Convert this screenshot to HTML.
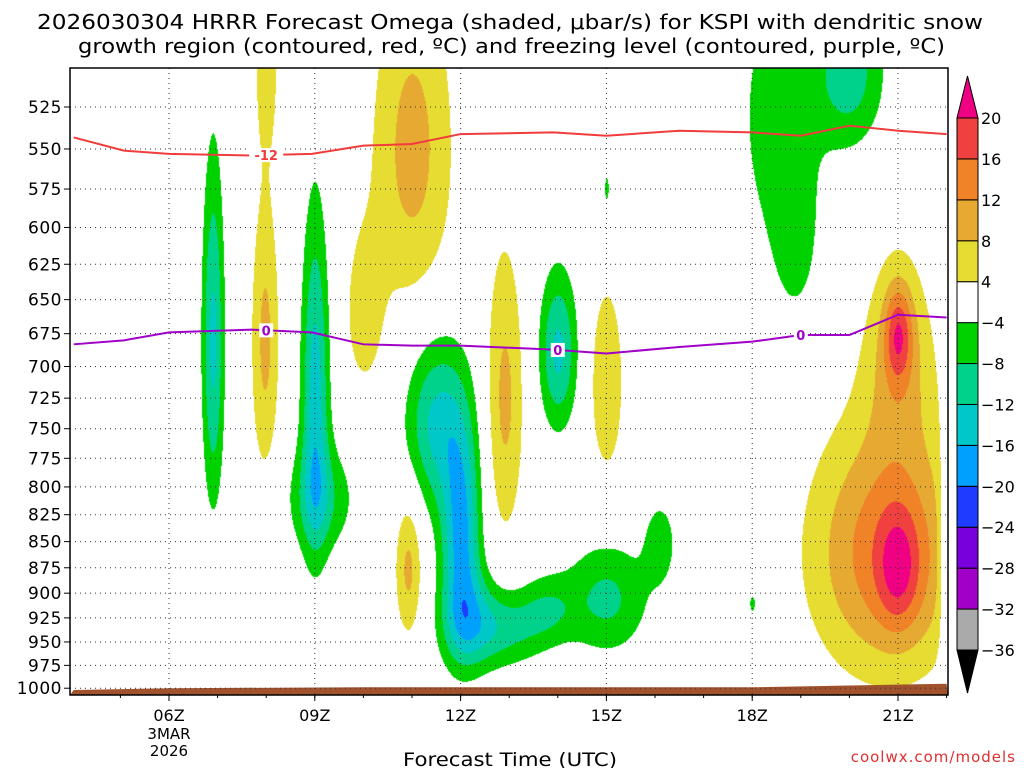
<!DOCTYPE html>
<html><head><meta charset="utf-8"><style>
body{margin:0;background:#fff;width:1024px;height:768px;overflow:hidden;font-family:"Liberation Sans",sans-serif}
#wrap{position:relative;width:1024px;height:768px}
canvas{position:absolute;left:0;top:0}
svg{position:absolute;left:0;top:0}
text{font-family:"DejaVu Sans","Liberation Sans",sans-serif}
</style></head><body>
<div id="wrap">
<canvas id="cv" width="1024" height="768"></canvas>
<svg id="sv" width="1024" height="768"></svg>
</div>
<script>
// ---- data ----
const pressureTicks=[525,550,575,600,625,650,675,700,725,750,775,800,825,850,875,900,925,950,975,1000];
const hourTicks=[6,9,12,15,18,21];
const hourLabels=["06Z","09Z","12Z","15Z","18Z","21Z"];
const levels=[-36,-32,-28,-24,-20,-16,-12,-8,-4,4,8,12,16,20];
const levelColors=["#000000","#aaaaaa","#a000c8","#7800dc","#1e3cff","#00a0ff","#00c8c8","#00d28c","#00d200","#ffffff","#e6dc32","#e6aa32","#f08228","#f04040","#f00082"];
// omega blobs: hour, pressure, amplitude, sigmaHour, sigmaP
const blobHour=[6.9,7.97,8.0,9.0,9.1,11.0,10.0,11.5,12.0,12.2,13.0,10.92,12.9,14.0,15.0,15.0,16.1,15.0,18.0,18.5,20.0,18.9,20.8,21.0,21.0,21.0,22.0,13.8];
const blobP=[680,680,505,720,810,550,660,745,845,930,935,875,725,688,712,905,850,575,910,530,505,610,860,875,690,675,860,915];
const blobAmp=[-13,9,5,-14,-8,9.5,6,-13,-17,-10,-8,9,9,-13,8,-9,-6,-5,-5,-5.5,-10,-4.2,15,9,8,12,-9,-6];
const blobSh=[0.16,0.21,0.22,0.2,0.5,0.6,0.3,0.45,0.28,0.45,0.55,0.2,0.28,0.27,0.25,0.6,0.25,0.07,0.1,0.7,0.5,0.35,1.1,0.3,0.5,0.2,0.12,0.4];
const blobSp=[91,79,35,95,35,75,45,50,70,35,28,50,85,42,55,40,30,12,15,70,30,45,85,40,55,25,70,25];
// -12C line and freezing level (pressure by hour)
const lineHours=[4.04,5.07,6,7.7,8.94,10.0,11.0,12.0,13.9,15.0,16.5,18.0,19.0,20.0,21.0,22.0];
const dgzP=[543,551,553,554,553,548,547,541,540,542,539,540,542,536,539,541];
const frzP=[683,680,674,672,674,683,684,684,687,690,685,681,676,676,661,663];
const groundHours=[4.04,6,10,18,20,22];
const groundP=[1002,1000,999,999,997,995];

// ---- scales ----
const X0=70,X1=948,Y0=68,Y1=695;
const xOf=h=>169+(h-6)*48.6;
const yOf=p=>107+(Math.log(p)-Math.log(525))*902;
const hOf=x=>6+(x-169)/48.6;
const pOf=y=>Math.exp(Math.log(525)+(y-107)/902);

// ---- shading ----
const cv=document.getElementById('cv'),ctx=cv.getContext('2d');
ctx.fillStyle='#fff';ctx.fillRect(0,0,1024,768);
const img=ctx.getImageData(X0,Y0,X1-X0,Y1-Y0);
function hex(c){return[parseInt(c.slice(1,3),16),parseInt(c.slice(3,5),16),parseInt(c.slice(5,7),16)];}
const rgb=levelColors.map(hex);
for(let j=0;j<Y1-Y0;j++){const p=pOf(Y0+j);
 for(let i=0;i<X1-X0;i++){const h=hOf(X0+i);let v=0;
  for(let k=0;k<blobHour.length;k++){const dh=(h-blobHour[k])/blobSh[k],dp=(p-blobP[k])/blobSp[k];const e=dh*dh+dp*dp;if(e<30)v+=blobAmp[k]*Math.exp(-e/2);}
  let idx=0;while(idx<levels.length&&v>=levels[idx])idx++;
  const c=rgb[idx];const o=(j*(X1-X0)+i)*4;img.data[o]=c[0];img.data[o+1]=c[1];img.data[o+2]=c[2];img.data[o+3]=255;}}
ctx.putImageData(img,X0,Y0);

// ---- svg overlay ----
const NS='http://www.w3.org/2000/svg',sv=document.getElementById('sv');
function mk(t,a,parent){const e=document.createElementNS(NS,t);for(const k in a)e.setAttribute(k,a[k]);(parent||sv).appendChild(e);return e;}
let gpts=groundHours.map((h,i)=>xOf(h)+','+yOf(groundP[i]));
let g=mk('polygon',{points:X0+','+Y1+' '+gpts.join(' ')+' '+X1+','+Y1,fill:'#a0522d'});


pressureTicks.forEach(p=>{const y=yOf(p);
 let l=mk('line',{x1:X0,x2:X1,y1:y,y2:y,stroke:'#333','stroke-width':1,'stroke-dasharray':'1,4'});
 
 
 mk('line',{x1:X0-6,x2:X0,y1:y,y2:y,stroke:'#000'});
 let t=mk('text',{x:X0-8,y:y+6,'text-anchor':'end','font-size':17,'letter-spacing':'0.5',fill:'#000'});t.textContent=p;
 
 
});
hourTicks.forEach((h,i)=>{const x=xOf(h);
 let l=mk('line',{x1:x,x2:x,y1:Y0,y2:Y1,stroke:'#333','stroke-width':1,'stroke-dasharray':'1,4'});
 
 
 mk('line',{x1:x,x2:x,y1:Y1,y2:Y1+6,stroke:'#000'});
 let t=mk('text',{x:x,y:721,'text-anchor':'middle','font-size':16});t.textContent=hourLabels[i];
 
 
});
for(let h=5;h<=22;h++){const x=xOf(h);mk('line',{x1:x,x2:x,y1:Y1,y2:Y1+3,stroke:'#000'});}
function drawLine(arr,color,name,labelText,labelHours){
 const pts=lineHours.map((h,i)=>xOf(h)+','+yOf(arr[i])).join(' ');
 let l=mk('polyline',{points:pts,fill:'none',stroke:color,'stroke-width':2});
 
 
 labelHours.forEach(h=>{let k=0;while(k<lineHours.length-2&&lineHours[k+1]<h)k++;
  const f=(h-lineHours[k])/(lineHours[k+1]-lineHours[k]);const p=arr[k]+f*(arr[k+1]-arr[k]);
  const x=xOf(h),y=yOf(p);
  mk('rect',{x:x-(labelText.length*5+2),y:y-7,width:labelText.length*10+4,height:14,fill:'#fff'});
  let t=mk('text',{x:x,y:y+5,'text-anchor':'middle','font-size':13,'font-weight':'bold',fill:color});t.textContent=labelText;
  
  
 });
}
drawLine(dgzP,'#f03c3c','dgz-minus12-line','-12',[8.0]);
drawLine(frzP,'#a000c8','freezing-level-line','0',[8.0,14.0,19.0]);
let fr=mk('rect',{x:X0,y:Y0,width:X1-X0,height:Y1-Y0,fill:'none',stroke:'#000','stroke-width':1.5});


const CB0=957,CB1=978,cbTop=118,cbStep=(650-118)/13;
for(let i=1;i<levels.length;i++){const y=cbTop+(levels.length-1-i)*cbStep;
 let r=mk('rect',{x:CB0,y:y,width:CB1-CB0,height:cbStep,fill:levelColors[i],stroke:'#000','stroke-width':1});
 
 }
let tri1=mk('polygon',{points:`${CB0},${cbTop} ${CB1},${cbTop} ${(CB0+CB1)/2},76`,fill:levelColors[14],stroke:'#000'});


let tri2=mk('polygon',{points:`${CB0},650 ${CB1},650 ${(CB0+CB1)/2},693`,fill:'#000',stroke:'#000'});


levels.forEach((lv,i)=>{const y=cbTop+(levels.length-1-i)*cbStep;
 let t=mk('text',{x:981,y:y+6,'font-size':16});t.textContent=lv<0?'\u2212'+(-lv):String(lv);
 
 });
function txt(s,a,name){let t=mk('text',a);t.textContent=s;return t;}
txt('2026030304 HRRR Forecast Omega (shaded, \u03bcbar/s) for KSPI with dendritic snow',{x:37,y:29,'font-size':20,textLength:946,lengthAdjust:'spacingAndGlyphs'},'title-line-1');
txt('growth region (contoured, red, \u00baC) and freezing level (contoured, purple, \u00baC)',{x:78,y:53,'font-size':20,textLength:867,lengthAdjust:'spacingAndGlyphs'},'title-line-2');
txt('3MAR',{x:169,y:739,'text-anchor':'middle','font-size':15},'date-label');
txt('2026',{x:169,y:756,'text-anchor':'middle','font-size':15},'year-label');
txt('Forecast Time (UTC)',{x:403,y:766,'font-size':19,textLength:214,lengthAdjust:'spacingAndGlyphs'},'x-axis-title');
txt('coolwx.com/models',{x:1016,y:762,'text-anchor':'end','font-size':15,fill:'#e03030','letter-spacing':'1'},'credit-label');
</script>
</body></html>
